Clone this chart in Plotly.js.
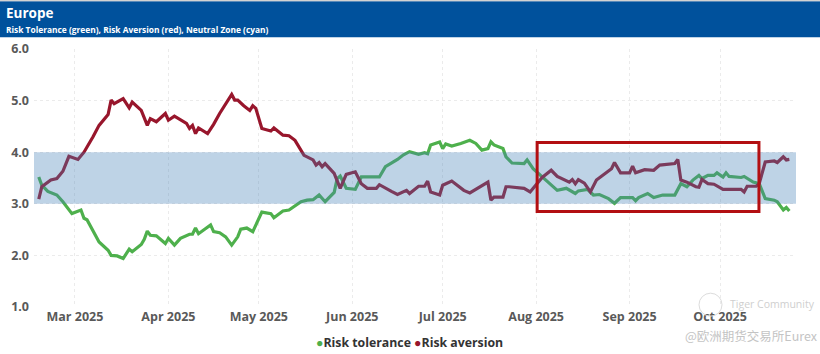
<!DOCTYPE html>
<html>
<head>
<meta charset="utf-8">
<script src="https://cdn.plot.ly/plotly-3.0.1.min.js"></script>
<style>
html,body{margin:0;padding:0;background:#fff;}
#chart{width:820px;height:354px;}
</style>
</head>
<body>
<div id="chart"></div>
<script>
// ---- Data ----
const toleranceDates = [
"2025-02-17","2025-02-18","2025-02-20","2025-02-22","2025-02-23","2025-02-25","2025-02-28",
"2025-03-03","2025-03-04","2025-03-05","2025-03-07","2025-03-09","2025-03-12","2025-03-13","2025-03-15","2025-03-17",
"2025-03-19","2025-03-20","2025-03-23","2025-03-24","2025-03-25","2025-03-26","2025-03-28","2025-03-31",
"2025-04-01","2025-04-03","2025-04-05","2025-04-08","2025-04-09","2025-04-10","2025-04-11","2025-04-15","2025-04-16",
"2025-04-18","2025-04-20","2025-04-22","2025-04-24","2025-04-25","2025-04-27","2025-04-29",
"2025-05-02","2025-05-05","2025-05-06","2025-05-09","2025-05-11","2025-05-15","2025-05-17","2025-05-19","2025-05-21",
"2025-05-23","2025-05-26","2025-05-27","2025-05-28","2025-05-30",
"2025-06-02","2025-06-04","2025-06-06","2025-06-10","2025-06-12","2025-06-16","2025-06-18","2025-06-20","2025-06-23",
"2025-06-25","2025-06-26","2025-06-27","2025-06-30",
"2025-07-01","2025-07-02","2025-07-04","2025-07-07","2025-07-10","2025-07-12","2025-07-14","2025-07-16","2025-07-17",
"2025-07-18","2025-07-21","2025-07-22","2025-07-24","2025-07-28","2025-07-29","2025-07-31",
"2025-08-03","2025-08-06","2025-08-08","2025-08-11","2025-08-14","2025-08-15","2025-08-18","2025-08-20","2025-08-22",
"2025-08-25","2025-08-27","2025-08-29",
"2025-09-02","2025-09-03","2025-09-04","2025-09-07","2025-09-09","2025-09-12","2025-09-15","2025-09-16","2025-09-18",
"2025-09-20","2025-09-22","2025-09-24","2025-09-25","2025-09-27","2025-09-29","2025-09-30",
"2025-10-02","2025-10-03","2025-10-04","2025-10-08","2025-10-09","2025-10-12","2025-10-14","2025-10-16","2025-10-19",
"2025-10-20","2025-10-22","2025-10-23","2025-10-24"
];
const toleranceValues = [
3.52,3.36,3.24,3.20,3.17,3.04,2.81,
2.88,2.72,2.69,2.49,2.26,2.10,2.00,1.99,1.94,
2.12,2.07,2.21,2.31,2.47,2.39,2.38,2.23,
2.33,2.20,2.33,2.41,2.41,2.53,2.42,2.59,2.46,
2.44,2.36,2.20,2.36,2.51,2.53,2.46,
2.84,2.81,2.73,2.86,2.88,3.04,3.07,3.08,3.17,
3.04,3.22,3.49,3.54,3.30,
3.28,3.52,3.52,3.52,3.72,3.86,3.95,4.01,3.96,
3.99,3.97,4.14,4.20,
4.07,4.16,4.12,4.17,4.23,4.17,4.04,4.07,4.20,
4.14,4.07,3.91,3.79,3.78,3.85,3.68,
3.52,3.36,3.26,3.30,3.20,3.25,3.28,3.17,3.18,
3.10,3.01,3.12,
3.12,3.06,3.12,3.20,3.12,3.17,3.17,3.17,3.39,
3.33,3.46,3.55,3.49,3.55,3.55,3.60,
3.52,3.60,3.53,3.51,3.53,3.42,3.39,3.10,3.07,
3.04,2.88,2.93,2.86
];

const aversionDates = [
"2025-02-17","2025-02-18","2025-02-21","2025-02-23","2025-02-25","2025-02-27",
"2025-03-02","2025-03-04","2025-03-07","2025-03-09","2025-03-12","2025-03-13","2025-03-14","2025-03-17","2025-03-19",
"2025-03-20","2025-03-23","2025-03-25","2025-03-26","2025-03-28","2025-03-31",
"2025-04-01","2025-04-03","2025-04-07","2025-04-08","2025-04-09","2025-04-10","2025-04-11","2025-04-14","2025-04-16",
"2025-04-18","2025-04-20","2025-04-22","2025-04-23","2025-04-24","2025-04-26","2025-04-28","2025-04-29","2025-04-30",
"2025-05-02","2025-05-05","2025-05-06","2025-05-09","2025-05-11","2025-05-13","2025-05-16","2025-05-19","2025-05-20",
"2025-05-21","2025-05-22","2025-05-23","2025-05-26","2025-05-28","2025-05-30",
"2025-06-02","2025-06-04","2025-06-06","2025-06-09","2025-06-10","2025-06-14","2025-06-16","2025-06-19","2025-06-20",
"2025-06-23","2025-06-25","2025-06-26","2025-06-27","2025-06-30",
"2025-07-01","2025-07-04","2025-07-08","2025-07-10","2025-07-14","2025-07-16","2025-07-17","2025-07-18","2025-07-21",
"2025-07-22","2025-07-23","2025-07-28","2025-07-30",
"2025-08-01","2025-08-03","2025-08-06","2025-08-08","2025-08-12","2025-08-13","2025-08-14","2025-08-15","2025-08-17",
"2025-08-19","2025-08-21","2025-08-23","2025-08-24","2025-08-26","2025-08-27","2025-08-29",
"2025-09-01","2025-09-02","2025-09-03","2025-09-06","2025-09-09","2025-09-11","2025-09-16","2025-09-17","2025-09-18",
"2025-09-20","2025-09-23","2025-09-24","2025-09-25","2025-09-27","2025-09-29",
"2025-10-02","2025-10-08","2025-10-09","2025-10-10","2025-10-13","2025-10-14","2025-10-16","2025-10-19","2025-10-20",
"2025-10-22","2025-10-23","2025-10-24"
];
const aversionValues = [
3.09,3.33,3.46,3.49,3.63,3.92,
3.86,4.00,4.30,4.52,4.73,5.01,4.94,5.04,4.86,
4.97,4.81,4.52,4.65,4.59,4.75,
4.62,4.70,4.56,4.46,4.52,4.36,4.47,4.36,4.54,
4.75,4.94,5.12,5.01,5.01,4.90,4.81,4.90,4.85,
4.46,4.41,4.47,4.33,4.32,4.23,3.94,3.85,3.75,
3.80,3.72,3.78,3.59,3.30,3.57,
3.62,3.39,3.30,3.30,3.37,3.24,3.18,3.26,3.20,
3.34,3.34,3.44,3.23,3.17,
3.36,3.44,3.26,3.21,3.36,3.42,3.07,3.13,3.13,
3.33,3.33,3.30,3.23,
3.36,3.51,3.65,3.53,3.42,3.47,3.39,3.47,3.40,
3.23,3.46,3.55,3.59,3.68,3.80,3.60,
3.60,3.73,3.60,3.66,3.65,3.75,3.78,3.86,3.46,
3.42,3.33,3.32,3.47,3.39,3.38,
3.28,3.28,3.23,3.34,3.34,3.39,3.81,3.83,3.80,
3.91,3.85,3.86
];

const seriesNames = ["Risk tolerance", "Risk aversion"];
const neutralZone = [3.0, 4.0];
const highlightBox = {x0: "2025-08-01 08:00", x1: "2025-10-13 22:00", y0: 2.85, y1: 4.19};
const xRange = ["2025-02-15 10:00", "2025-10-26 05:00"];
const yTicks = [1, 2, 3, 4, 5, 6];
const titleText = "Europe";
const subtitleText = "Risk Tolerance (green), Risk Aversion (red), Neutral Zone (cyan)";
const watermark1 = "Tiger Community";
const watermark2 = "@欧洲期货交易所Eurex";

// ---- Styling ----
const W = 820, H = 354;
const M = {l: 34, r: 24, t: 48.8, b: 47.2};
const pw = W - M.l - M.r, ph = H - M.t - M.b;
const px = x => (x - M.l) / pw;           // pixel -> paper x
const py = y => (H - M.b - y) / ph;       // pixel -> paper y

const green = "rgb(78,176,76)";
const red = "rgb(152,22,44)";
const font = "'Open Sans', 'Noto Sans', sans-serif";

const traces = [
  {x: toleranceDates, y: toleranceValues, name: seriesNames[0], type: "scatter", mode: "lines",
   line: {color: green, width: 3.2}, showlegend: false, hoverinfo: "skip"},
  {x: aversionDates, y: aversionValues, name: seriesNames[1], type: "scatter", mode: "lines",
   line: {color: red, width: 3.2}, showlegend: false, hoverinfo: "skip"}
];

const layout = {
  width: W, height: H,
  margin: M,
  paper_bgcolor: "#fff", plot_bgcolor: "#fff",
  showlegend: false,
  font: {family: font, color: "#555"},
  xaxis: {
    type: "date", range: xRange, dtick: "M1", tick0: "2025-03-01", tickformat: "%b %Y",
    showgrid: true, gridcolor: "#ebebeb", griddash: "dot", gridwidth: 1,
    zeroline: false, showline: false, ticks: "",
    tickfont: {family: font, size: 12.5, color: "#595959", weight: "bold"}
  },
  yaxis: {
    range: [1, 6], tickvals: yTicks, tickformat: ".1f",
    showgrid: true, gridcolor: "#ebebeb", griddash: "dot", gridwidth: 1,
    zeroline: false, showline: false, ticks: "", ticklabelstandoff: 4,
    tickfont: {family: font, size: 12.5, color: "#595959", weight: "bold"}
  },
  shapes: [
    // header bar
    {type: "rect", xref: "paper", yref: "paper", x0: px(0), x1: px(W), y0: py(37), y1: py(1),
     fillcolor: "#00519c", line: {width: 0}, layer: "below"},
    {type: "line", xref: "paper", yref: "paper", x0: px(0), x1: px(W), y0: py(0.5), y1: py(0.5),
     line: {color: "#c8c8c8", width: 1}},
    // neutral zone
    {type: "rect", xref: "paper", yref: "y", x0: 0, x1: 1, y0: neutralZone[0], y1: neutralZone[1],
     fillcolor: "rgba(70,130,182,0.35)", line: {width: 0}, layer: "above"},
    // highlight box
    {type: "rect", xref: "x", yref: "y", x0: highlightBox.x0, x1: highlightBox.x1,
     y0: highlightBox.y0, y1: highlightBox.y1, line: {color: "#b30f12", width: 3}, layer: "above"},
    // watermark logo circle
    {type: "circle", xref: "paper", yref: "paper", x0: px(699), x1: px(722), y0: py(316), y1: py(293),
     line: {color: "#dcdcdc", width: 1}, layer: "above"}
  ],
  annotations: [
    {xref: "paper", yref: "paper", x: px(4), y: py(12.5), xanchor: "left", yanchor: "middle",
     text: titleText, showarrow: false, font: {family: font, size: 13.5, color: "#fff", weight: "bold"}},
    {xref: "paper", yref: "paper", x: px(4), y: py(29), xanchor: "left", yanchor: "middle",
     text: subtitleText, showarrow: false, font: {family: font, size: 8.4, color: "#fff", weight: "bold"}},
    {xref: "paper", yref: "paper", x: px(409), y: py(342), xanchor: "center", yanchor: "middle",
     text: '<span style="color:' + green + '">●</span>' + seriesNames[0] + ' <span style="color:' + red + '">●</span>' + seriesNames[1],
     showarrow: false, font: {family: font, size: 12.3, color: "#333", weight: "bold"}},
    {xref: "paper", yref: "paper", x: px(772), y: py(304), xanchor: "center", yanchor: "middle",
     text: watermark1, showarrow: false, font: {family: font, size: 10.5, color: "#cfcfcf"}},
    {xref: "paper", yref: "paper", x: px(751), y: py(335), xanchor: "center", yanchor: "middle",
     text: watermark2, showarrow: false, font: {family: "'Noto Sans CJK SC', sans-serif", size: 12.5, color: "#c4c4c4"}}
  ]
};

Plotly.newPlot("chart", traces, layout, {staticPlot: true, displayModeBar: false});
</script>
</body>
</html>
